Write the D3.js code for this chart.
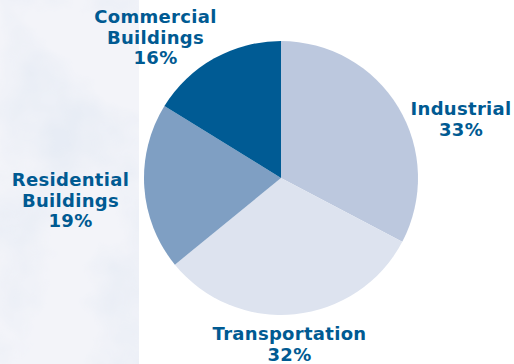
<!DOCTYPE html>
<html>
<head>
<meta charset="utf-8">
<script src="https://cdn.jsdelivr.net/npm/d3@7"></script>
<style>
  body { margin: 0; background: #fff; }
  svg { display: block; }
  .label { font-family: "DejaVu Sans", sans-serif; font-weight: bold; font-size: 18px; letter-spacing: 0.3px; fill: #005a92; }
</style>
</head>
<body>
<div id="chart"></div>
<script>
// Chart data (slice sizes, labels as printed)
const categories = ['Industrial', 'Transportation', 'Residential Buildings', 'Commercial Buildings'];
const shares = [32.7, 31.4, 19.7, 16.2];
const shareLabels = ['33%', '32%', '19%', '16%'];
const colors = ['#bcc8de', '#dde3ef', '#7f9fc3', '#005b94'];

const width = 514, height = 364;

const svg = d3.select('#chart')
    .append('svg')
    .attr('width', width)
    .attr('height', height);

// Cloudy sky panel on the left
const defs = svg.append('defs');
const filter = defs.append('filter')
    .attr('id', 'clouds')
    .attr('x', 0).attr('y', 0).attr('width', 1).attr('height', 1);
filter.append('feTurbulence')
    .attr('type', 'fractalNoise')
    .attr('baseFrequency', 0.011)
    .attr('numOctaves', 4)
    .attr('seed', 3);
filter.append('feColorMatrix')
    .attr('type', 'matrix')
    .attr('values', '0 0 0 0 0.80  0 0 0 0 0.84  0 0 0 0 0.91  2.4 0 0 0 -1.05');
filter.append('feComposite').attr('in2', 'SourceGraphic').attr('operator', 'in');

svg.append('rect')
    .attr('x', 0).attr('y', 0)
    .attr('width', 139).attr('height', height)
    .attr('fill', '#f3f4f9');
svg.append('rect')
    .attr('x', 0).attr('y', 0)
    .attr('width', 139).attr('height', height)
    .attr('fill', '#fff')
    .attr('filter', 'url(#clouds)');

// Pie
const cx = 281, cy = 178, radius = 137;
const pie = d3.pie().sort(null).value(d => d);
const arc = d3.arc().innerRadius(0).outerRadius(radius);

const g = svg.append('g').attr('transform', `translate(${cx},${cy})`);
g.selectAll('path')
    .data(pie(shares))
    .enter()
    .append('path')
    .attr('d', arc)
    .attr('fill', (d, i) => colors[i]);

// Labels: anchor (centre x, first baseline) for each slice
const labelAnchor = {
    'Industrial': [461, 115],
    'Transportation': [289.5, 340],
    'Residential Buildings': [70.5, 186],
    'Commercial Buildings': [155.5, 23]
};
const lineHeight = 20.5;

categories.forEach((c, i) => {
    const lines = c.split(' ').concat([shareLabels[i]]);
    const [x, y] = labelAnchor[c];
    const t = svg.append('text')
        .attr('class', 'label')
        .attr('text-anchor', 'middle');
    lines.forEach((ln, j) => {
        t.append('tspan')
            .attr('x', x)
            .attr('y', y + j * lineHeight)
            .text(ln);
    });
});
</script>
</body>
</html>
